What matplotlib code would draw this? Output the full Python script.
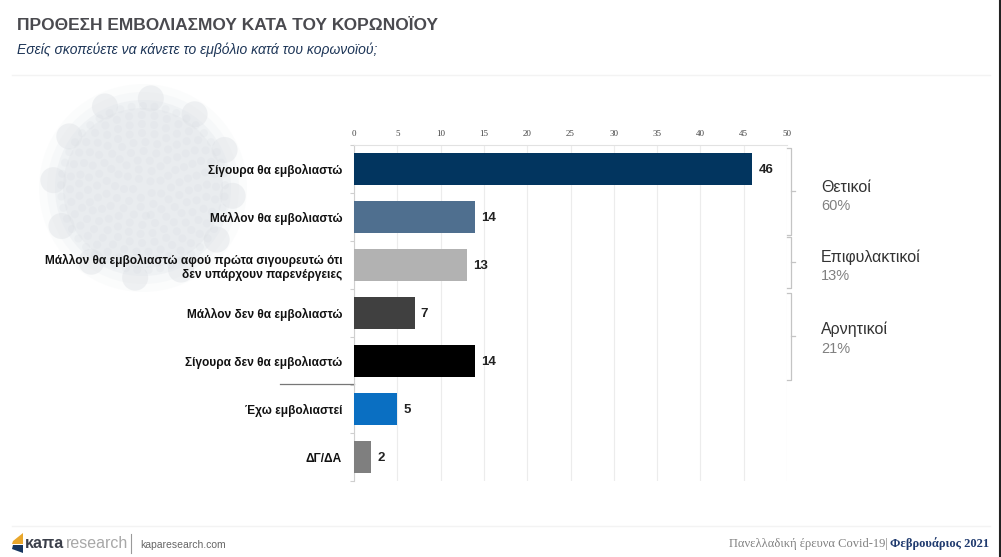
import numpy as np
import matplotlib.pyplot as plt

OUT_FILE = "out.png"
SANS = "Liberation Sans"
SERIF = "Liberation Serif"

# Datos de la encuesta
etiquetas = [
    "Σίγουρα θα εμβολιαστώ",
    "Μάλλον θα εμβολιαστώ",
    "Μάλλον θα εμβολιαστώ αφού πρώτα σιγουρευτώ ότι\nδεν υπάρχουν παρενέργειες",
    "Μάλλον δεν θα εμβολιαστώ",
    "Σίγουρα δεν θα εμβολιαστώ",
    "Έχω εμβολιαστεί",
    "ΔΓ/ΔΑ",
]
valores = [46, 14, 13, 7, 14, 5, 2]
colores = ["#02355f", "#4f6f8f", "#b2b2b2", "#404040", "#000000", "#0a6fc2", "#7f7f7f"]

# Grupos de la derecha: nombre, porcentaje, inicio y fin del corchete, altura del texto
grupos = [
    ("Θετικοί", "60%", -0.44, 1.37, 0.58),
    ("Επιφυλακτικοί", "13%", 1.41, 2.48, 2.03),
    ("Αρνητικοί", "21%", 2.58, 4.39, 3.54),
]

plt.figure(figsize=(10.01, 5.57), dpi=100)

# **Fondo en pixeles: cabecera, virus, logo y pie**
fondo = plt.axes([0, 0, 1, 1])
fondo.set_xlim(0, 1001)
fondo.set_ylim(557, 0)
fondo.axis("off")

fondo.text(17, 26, "ΠΡΟΘΕΣΗ ΕΜΒΟΛΙΑΣΜΟΥ ΚΑΤΑ ΤΟΥ ΚΟΡΩΝΟΪΟΥ", fontsize=12.5, fontweight="bold",
           family=SANS, color="#4a4a4f", va="center")
fondo.text(17, 50, "Εσείς σκοπεύετε να κάνετε το εμβόλιο κατά του κορωνοϊού;", fontsize=10,
           style="italic", family=SANS, color="#1d3557", va="center")
fondo.plot([12, 990], [75, 75], color="#f3f3f3", lw=1)
fondo.plot([12, 990], [526, 526], color="#f3f3f3", lw=1)
fondo.plot([1000, 1000], [0, 557], color="#222222", lw=1.5)

# **Virus decorativo**
cx, cy = 143, 188
for r, alfa in [(104, 0.10), (96, 0.15), (88, 0.28), (80, 0.35)]:
    fondo.add_patch(plt.Circle((cx, cy), r, color="#dfe3e8", alpha=alfa, lw=0, zorder=1))
for ang in range(5, 365, 30):
    px = cx + 90 * np.cos(np.radians(ang))
    py = cy + 90 * np.sin(np.radians(ang))
    fondo.add_patch(plt.Circle((px, py), 13, color="#e0e3e7", alpha=0.45, lw=0, zorder=1))
for r in range(10, 84, 9):
    for ang in range(0, 360, 360 // (r // 2)):
        px = cx + r * np.cos(np.radians(ang + 3 * r))
        py = cy + r * np.sin(np.radians(ang + 3 * r))
        fondo.add_patch(plt.Circle((px, py), 4, color="#cfd4da", alpha=0.14, lw=0, zorder=1))

# **Logo**
fondo.fill([23, 13, 12, 23], [533, 541, 544, 544], color="#e9a72c", lw=0)
fondo.fill([23, 13, 12, 23], [545, 545, 549, 553], color="#17365f", lw=0)
fondo.text(25, 544, "κaπa", fontsize=11.5, fontweight="bold", family=SANS, color="#3b3f4a", va="center")
fondo.text(66, 544, "research", fontsize=11.5, family=SANS, color="#a8a8a8", va="center")
fondo.plot([131, 131], [534, 553], color="#9a9a9a", lw=0.8)
fondo.text(140, 545, "kaparesearch.com", fontsize=7.5, family=SANS, color="#666666", va="center")

fondo.text(888, 544, "Πανελλαδική έρευνα Covid-19|", fontsize=9, family=SERIF, color="#808080",
           va="center", ha="right")
fondo.text(890, 544, "Φεβρουάριος 2021", fontsize=9, family=SERIF, fontweight="bold", color="#1f3a6e",
           va="center", ha="left")

# **Grafica de barras**
ax = plt.axes([354 / 1001, 1 - 481 / 557, 433 / 1001, 336 / 557], facecolor="none")
posiciones = np.arange(len(valores))
plt.barh(posiciones, valores, height=0.67, color=colores, zorder=3)
plt.xlim(0, 50)
plt.ylim(6.5, -0.5)
plt.xticks(range(0, 55, 5))
plt.yticks(posiciones, etiquetas, fontsize=8.6, fontweight="bold", family=SANS, color="#111111",
           linespacing=1.25)
plt.tick_params(axis="x", top=True, bottom=False, labeltop=True, labelbottom=False, length=0, pad=5,
                labelsize=6.5, labelcolor="#444444", labelfontfamily=SERIF)
plt.tick_params(axis="y", length=0, pad=8.5)
plt.grid(True, axis="x", color="#ececec", lw=0.8, zorder=0)
for lado in ["right", "bottom"]:
    ax.spines[lado].set_visible(False)
ax.spines["top"].set_color("#e2e2e2")
ax.spines["left"].set_color("#cfcfcf")

# Marcas entre categorias
plt.hlines(np.arange(-0.5, 7, 1), -0.5, 0, color="#cfcfcf", lw=0.8, clip_on=False)

# Valores al final de cada barra
for pos, valor in zip(posiciones, valores):
    plt.text(valor + 0.7, pos + 0.03, str(valor), fontsize=9.5, fontweight="bold", family=SANS,
             color="#222222", va="center")

# Separador antes de las dos ultimas barras
plt.plot([-8.6, 0], [4.48, 4.48], color="#777777", lw=0.9, clip_on=False)

# **Corchetes y textos de los grupos**
for nombre, pct, y0, y1, ytxt in grupos:
    plt.plot([50, 50.45, 50.45, 50], [y0, y0, y1, y1], color="#c4c4c4", lw=0.9, clip_on=False)
    plt.plot([50.45, 50.9], [(y0 + y1) / 2, (y0 + y1) / 2], color="#c4c4c4", lw=0.9, clip_on=False)
    plt.text(53.9, ytxt - 0.2, nombre, fontsize=11.5, family=SANS, color="#333333", va="center")
    plt.text(53.9, ytxt + 0.2, pct, fontsize=10.5, family=SANS, color="#808080", va="center")

plt.savefig(OUT_FILE, dpi=100)
plt.close()
